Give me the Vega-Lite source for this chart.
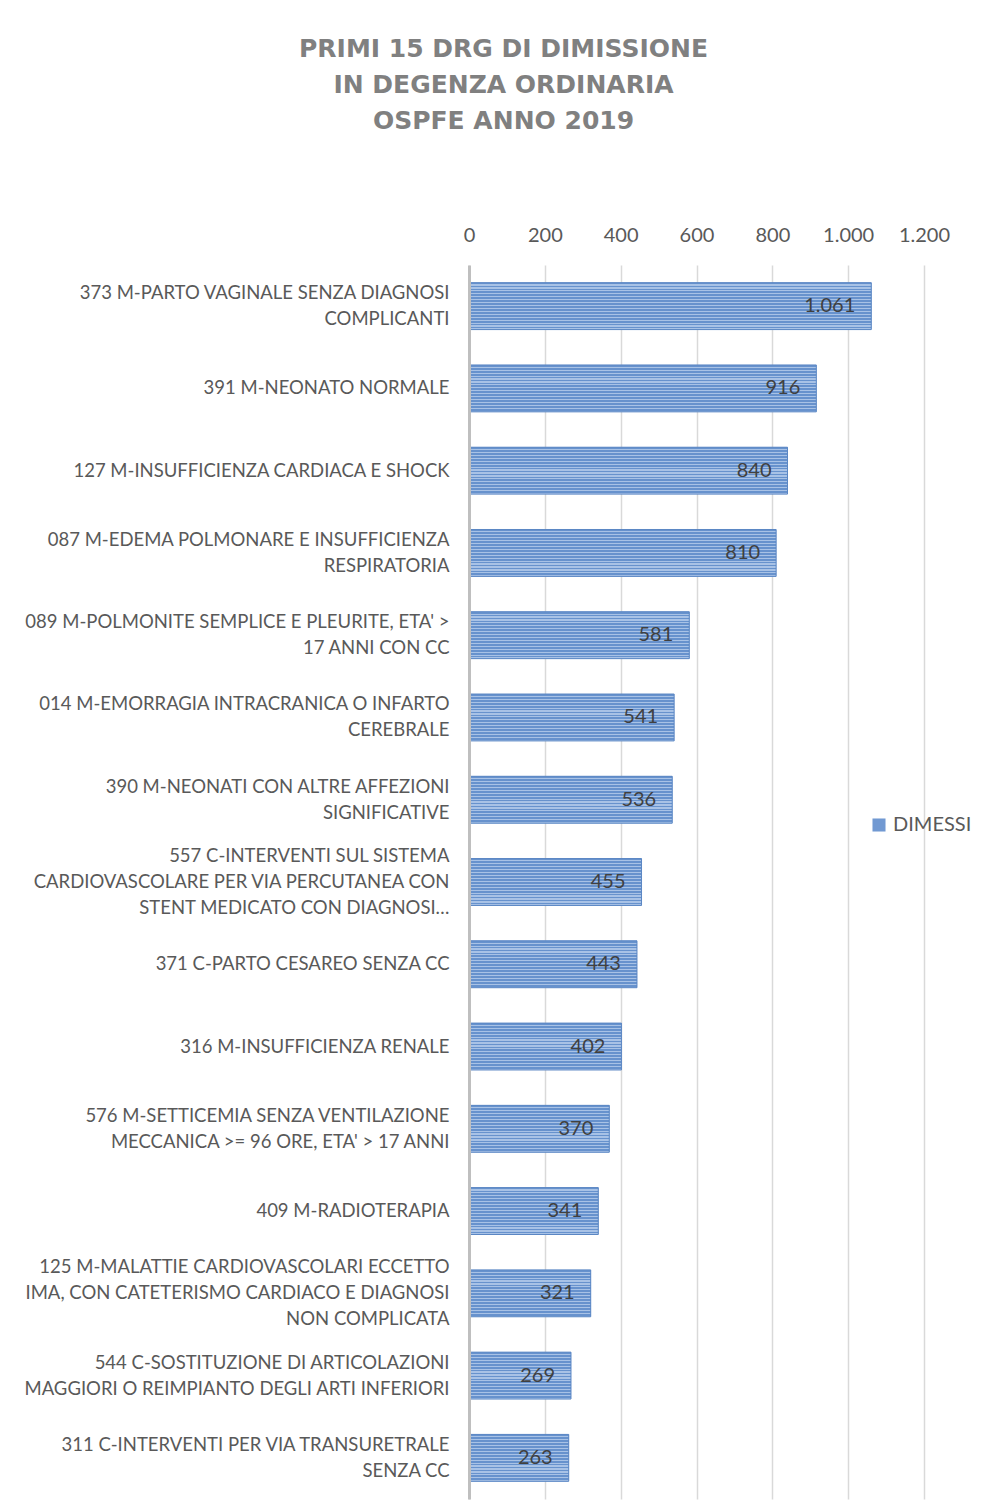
{
  "$schema": "https://vega.github.io/schema/vega-lite/v6.json",
  "width": 455,
  "height": 1234,
  "autosize": {"type": "none"},
  "padding": {"left": 469, "top": 265, "right": 63, "bottom": 2},
  "background": "white",
  "title": {
    "text": ["PRIMI 15 DRG DI DIMISSIONE", "IN DEGENZA ORDINARIA", "OSPFE ANNO 2019"],
    "anchor": "middle",
    "frame": "group",
    "dx": -193,
    "offset": 91,
    "font": "DejaVu Sans",
    "fontSize": 25,
    "fontWeight": "bold",
    "lineHeight": 36,
    "color": "#808080"
  },
  "config": {
    "locale": {"number": {"decimal": ",", "thousands": ".", "grouping": [3], "currency": ["€", ""]}},
    "view": {"stroke": null},
    "font": "Lato"
  },
  "data": {
    "values": [
      {"drg": "373 M-PARTO VAGINALE SENZA DIAGNOSI\nCOMPLICANTI", "dimessi": 1061, "serie": "DIMESSI"},
      {"drg": "391 M-NEONATO NORMALE", "dimessi": 916, "serie": "DIMESSI"},
      {"drg": "127 M-INSUFFICIENZA CARDIACA E SHOCK", "dimessi": 840, "serie": "DIMESSI"},
      {"drg": "087 M-EDEMA POLMONARE E INSUFFICIENZA\nRESPIRATORIA", "dimessi": 810, "serie": "DIMESSI"},
      {"drg": "089 M-POLMONITE SEMPLICE E PLEURITE, ETA' >\n17 ANNI CON CC", "dimessi": 581, "serie": "DIMESSI"},
      {"drg": "014 M-EMORRAGIA INTRACRANICA O INFARTO\nCEREBRALE", "dimessi": 541, "serie": "DIMESSI"},
      {"drg": "390 M-NEONATI CON ALTRE AFFEZIONI\nSIGNIFICATIVE", "dimessi": 536, "serie": "DIMESSI"},
      {"drg": "557 C-INTERVENTI SUL SISTEMA\nCARDIOVASCOLARE PER VIA PERCUTANEA CON\nSTENT MEDICATO CON DIAGNOSI…", "dimessi": 455, "serie": "DIMESSI"},
      {"drg": "371 C-PARTO CESAREO SENZA CC", "dimessi": 443, "serie": "DIMESSI"},
      {"drg": "316 M-INSUFFICIENZA RENALE", "dimessi": 402, "serie": "DIMESSI"},
      {"drg": "576 M-SETTICEMIA SENZA VENTILAZIONE\nMECCANICA >= 96 ORE, ETA' > 17 ANNI", "dimessi": 370, "serie": "DIMESSI"},
      {"drg": "409 M-RADIOTERAPIA", "dimessi": 341, "serie": "DIMESSI"},
      {"drg": "125 M-MALATTIE CARDIOVASCOLARI ECCETTO\nIMA, CON CATETERISMO CARDIACO E DIAGNOSI\nNON COMPLICATA", "dimessi": 321, "serie": "DIMESSI"},
      {"drg": "544 C-SOSTITUZIONE DI ARTICOLAZIONI\nMAGGIORI O REIMPIANTO DEGLI ARTI INFERIORI", "dimessi": 269, "serie": "DIMESSI"},
      {"drg": "311 C-INTERVENTI PER VIA TRANSURETRALE\nSENZA CC", "dimessi": 263, "serie": "DIMESSI"}
    ]
  },
  "encoding": {
    "y": {
      "field": "drg",
      "type": "nominal",
      "sort": "-x",
      "scale": {"paddingInner": 0.43, "paddingOuter": 0.215},
      "axis": {
        "title": null,
        "zindex": 1,
        "ticks": false,
        "domain": true,
        "domainColor": "#bfbfbf",
        "domainWidth": 3,
        "labelExpr": "split(datum.label, '\\n')",
        "labelFont": "Lato",
        "labelFontSize": 18.5,
        "labelColor": "#595959",
        "labelPadding": 20,
        "labelLineHeight": 26,
        "labelLimit": 500,
        "labelBaseline": "middle",
        "labelOffset": {
          "condition": [
            {"test": "length(split(datum.value, '\\n')) == 3", "value": -26},
            {"test": "length(split(datum.value, '\\n')) == 2", "value": -13}
          ],
          "value": 0
        }
      }
    },
    "x": {
      "field": "dimessi",
      "type": "quantitative",
      "scale": {"domain": [0, 1200], "nice": false},
      "axis": {
        "orient": "top",
        "title": null,
        "values": [0, 200, 400, 600, 800, 1000, 1200],
        "format": ",d",
        "domain": false,
        "ticks": false,
        "grid": true,
        "gridColor": "#d9d9d9",
        "gridWidth": 1.5,
        "labelFont": "Lato",
        "labelFontSize": 20,
        "labelColor": "#595959",
        "labelPadding": 20,
        "labelOverlap": false,
        "labelFlush": false
      }
    }
  },
  "layer": [
    {
      "mark": {"type": "bar"},
      "encoding": {
        "color": {
          "field": "serie",
          "type": "nominal",
          "scale": {"range": ["#7199d2"]},
          "legend": {
            "title": null,
            "orient": "none",
            "legendX": 400,
            "legendY": 550,
            "symbolType": "square",
            "symbolSize": 170,
            "symbolStrokeWidth": 0,
            "labelFont": "Lato",
            "labelFontSize": 20,
            "labelColor": "#595959",
            "labelOffset": 4
          }
        }
      }
    },
    {
      "mark": {
        "type": "bar",
        "stroke": "#5b87c4",
        "strokeWidth": 1,
        "fill": {
          "gradient": "linear",
          "x1": 0, "y1": 0, "x2": 0, "y2": 1,
          "stops": [
            {"offset": 0, "color": "#6792cd"}, {"offset": 0.0375, "color": "#6792cd"}, {"offset": 0.0375, "color": "#a8c2e6"}, {"offset": 0.0625, "color": "#a8c2e6"},
            {"offset": 0.0625, "color": "#6792cd"}, {"offset": 0.1, "color": "#6792cd"}, {"offset": 0.1, "color": "#a8c2e6"}, {"offset": 0.125, "color": "#a8c2e6"},
            {"offset": 0.125, "color": "#6792cd"}, {"offset": 0.1625, "color": "#6792cd"}, {"offset": 0.1625, "color": "#a8c2e6"}, {"offset": 0.1875, "color": "#a8c2e6"},
            {"offset": 0.1875, "color": "#6792cd"}, {"offset": 0.225, "color": "#6792cd"}, {"offset": 0.225, "color": "#a8c2e6"}, {"offset": 0.25, "color": "#a8c2e6"},
            {"offset": 0.25, "color": "#6792cd"}, {"offset": 0.2875, "color": "#6792cd"}, {"offset": 0.2875, "color": "#a8c2e6"}, {"offset": 0.3125, "color": "#a8c2e6"},
            {"offset": 0.3125, "color": "#6792cd"}, {"offset": 0.35, "color": "#6792cd"}, {"offset": 0.35, "color": "#a8c2e6"}, {"offset": 0.375, "color": "#a8c2e6"},
            {"offset": 0.375, "color": "#6792cd"}, {"offset": 0.4125, "color": "#6792cd"}, {"offset": 0.4125, "color": "#a8c2e6"}, {"offset": 0.4375, "color": "#a8c2e6"},
            {"offset": 0.4375, "color": "#6792cd"}, {"offset": 0.475, "color": "#6792cd"}, {"offset": 0.475, "color": "#a8c2e6"}, {"offset": 0.5, "color": "#a8c2e6"},
            {"offset": 0.5, "color": "#6792cd"}, {"offset": 0.5375, "color": "#6792cd"}, {"offset": 0.5375, "color": "#a8c2e6"}, {"offset": 0.5625, "color": "#a8c2e6"},
            {"offset": 0.5625, "color": "#6792cd"}, {"offset": 0.6, "color": "#6792cd"}, {"offset": 0.6, "color": "#a8c2e6"}, {"offset": 0.625, "color": "#a8c2e6"},
            {"offset": 0.625, "color": "#6792cd"}, {"offset": 0.6625, "color": "#6792cd"}, {"offset": 0.6625, "color": "#a8c2e6"}, {"offset": 0.6875, "color": "#a8c2e6"},
            {"offset": 0.6875, "color": "#6792cd"}, {"offset": 0.725, "color": "#6792cd"}, {"offset": 0.725, "color": "#a8c2e6"}, {"offset": 0.75, "color": "#a8c2e6"},
            {"offset": 0.75, "color": "#6792cd"}, {"offset": 0.7875, "color": "#6792cd"}, {"offset": 0.7875, "color": "#a8c2e6"}, {"offset": 0.8125, "color": "#a8c2e6"},
            {"offset": 0.8125, "color": "#6792cd"}, {"offset": 0.85, "color": "#6792cd"}, {"offset": 0.85, "color": "#a8c2e6"}, {"offset": 0.875, "color": "#a8c2e6"},
            {"offset": 0.875, "color": "#6792cd"}, {"offset": 0.9125, "color": "#6792cd"}, {"offset": 0.9125, "color": "#a8c2e6"}, {"offset": 0.9375, "color": "#a8c2e6"},
            {"offset": 0.9375, "color": "#6792cd"}, {"offset": 0.975, "color": "#6792cd"}, {"offset": 0.975, "color": "#a8c2e6"}, {"offset": 1, "color": "#a8c2e6"}
          ]
        }
      }
    },
    {
      "mark": {
        "type": "text",
        "align": "right",
        "baseline": "middle",
        "dx": -16,
        "font": "Lato",
        "fontSize": 20,
        "color": "#404040"
      },
      "encoding": {
        "text": {"field": "dimessi", "type": "quantitative", "format": ",d"}
      }
    }
  ]
}
